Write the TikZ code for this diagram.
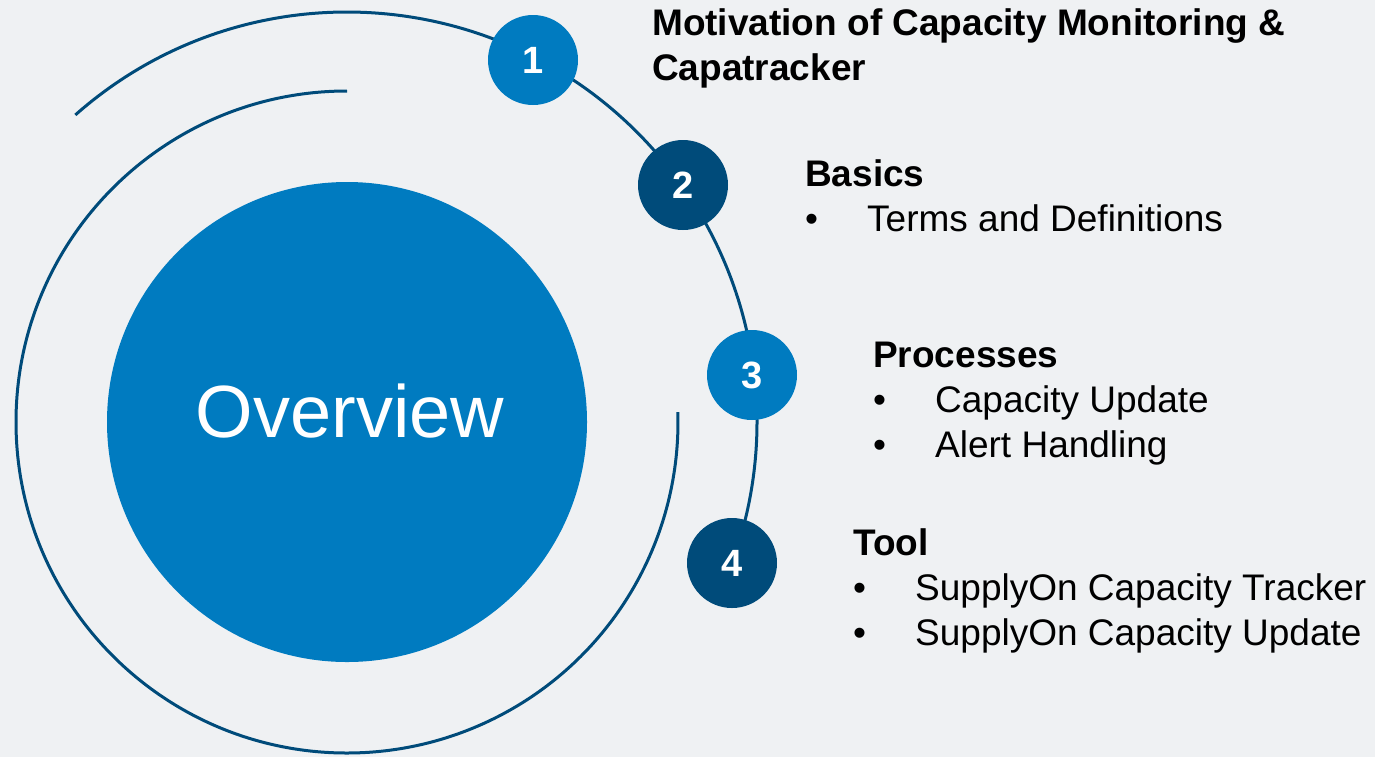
\documentclass[tikz,border=0pt]{standalone}
\usepackage{fontspec}
\setmainfont{Liberation Sans}
\usetikzlibrary{calc}

\definecolor{bgcol}{HTML}{EFF1F3}
\definecolor{lightblue}{HTML}{007BC0}
\definecolor{darkblue}{HTML}{004B7A}

\tikzset{
  ring/.style={draw=darkblue, line width=3pt},
  num/.style={circle, minimum size=90pt, inner sep=0pt, text=white,
    font=\fontsize{38}{44}\selectfont\bfseries},
  head/.style={anchor=base west, inner sep=0pt, font=\fontsize{37}{44}\selectfont\bfseries},
  item/.style={anchor=base west, inner sep=0pt, font=\fontsize{37}{44}\selectfont}
}

\newcommand{\bul}[1]{\makebox[62pt][l]{\textbullet}#1}

\begin{document}
\begin{tikzpicture}[x=1pt,y=1pt]
		\useasboundingbox (0,0) rectangle (1375,-756);
		\fill [bgcol] (-5,5) rectangle (1380,-761);
		\coordinate (o) at (347,-422);
		% rings
		\draw [ring] ([shift={(131.5:410)}]o) arc [start angle=131.5, end angle=-20, radius=410];
		\draw [ring] ([shift={(90:331)}]o) arc [start angle=90, end angle=361.7, radius=331];
		% centre
		\node [circle, fill=lightblue, minimum size=480pt, inner sep=0pt] (ov) at (o) {};
		\node [anchor=base, inner sep=0pt, text=white, font=\fontsize{74}{80}\selectfont] (ovt) at (350,-437) {Overview};
		% steps
		\node [num, fill=lightblue] (c1) at (533,-60) {1};
		\node [num, fill=darkblue] (c2) at (683,-185) {2};
		\node [num, fill=lightblue] (c3) at (752,-375) {3};
		\node [num, fill=darkblue] (c4) at (732,-563) {4};
		% texts
		\node [head] (h1a) at (652,-35) {Motivation of Capacity Monitoring \&};
		\node [head] (h1b) at (652,-80) {Capatracker};
		\node [head] (h2) at (805,-186) {Basics};
		\node [item] (i2a) at (805,-231) {\bul{Terms and Definitions}};
		\node [head] (h3) at (873,-367) {Processes};
		\node [item] (i3a) at (873,-412) {\bul{Capacity Update}};
		\node [item] (i3b) at (873,-457) {\bul{Alert Handling}};
		\node [head] (h4) at (853,-555) {Tool};
		\node [item] (i4a) at (853,-600) {\bul{SupplyOn Capacity Tracker}};
		\node [item] (i4b) at (853,-645) {\bul{SupplyOn Capacity Update}};
		\end{tikzpicture}
\end{document}
